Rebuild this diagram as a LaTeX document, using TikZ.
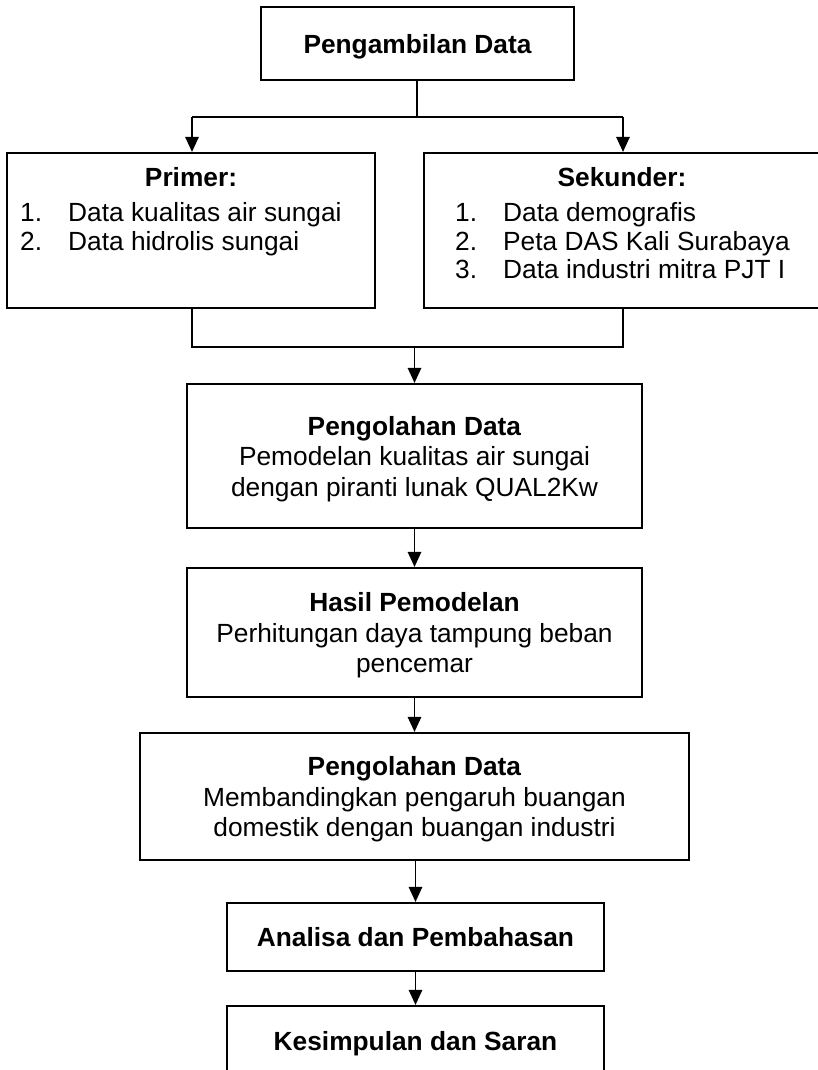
\documentclass[tikz,border=0pt]{standalone}
\usepackage{fontspec}
\setmainfont{Liberation Sans}
\usetikzlibrary{arrows.meta}
\begin{document}
\begin{tikzpicture}[x=1pt,y=-1pt,
  every node/.style={font=\fontsize{26.3}{30.5}\selectfont},
  box/.style={draw, line width=2.2pt, rectangle, inner sep=0pt, align=center, text depth=0pt},
  txt/.style={inner sep=0pt},
  conn/.style={line width=1.3pt},
  arr/.style={line width=1.3pt, -{Triangle[width=13.5pt,length=15pt]}}]
\useasboundingbox (0,0) rectangle (818,1070);
% boxes
\node[box, minimum width=313pt, minimum height=73pt] (b1) at (417.5,43.5) {\bfseries Pengambilan Data};
\node[box, minimum width=368pt, minimum height=155pt] (prim) at (191,230.5) {};
\node[box, minimum width=396pt, minimum height=155pt] (sek) at (622,230.5) {};
\node[box, minimum width=455pt, minimum height=144pt] (b4) at (414.5,456) {\textbf{Pengolahan Data}\\Pemodelan kualitas air sungai\\dengan piranti lunak QUAL2Kw};
\node[box, minimum width=455pt, minimum height=129pt] (b5) at (414.5,632.5) {\textbf{Hasil Pemodelan}\\Perhitungan daya tampung beban\\pencemar};
\node[box, minimum width=549pt, minimum height=127pt] (b6) at (414.5,796.5) {\textbf{Pengolahan Data}\\Membandingkan pengaruh buangan\\domestik dengan buangan industri};
\node[box, minimum width=377pt, minimum height=68pt] (b7) at (415.5,937) {\bfseries Analisa dan Pembahasan};
\node[box, minimum width=377pt, minimum height=70pt] (b8) at (415.5,1041) {\bfseries Kesimpulan dan Saran};
% list texts
\node[txt, anchor=base] (ph) at (191,186) {\bfseries Primer:};
\node[txt, anchor=base west] (p1) at (20,221.5) {\makebox[48pt][l]{1.}Data kualitas air sungai};
\node[txt, anchor=base west] (p2) at (20,250) {\makebox[48pt][l]{2.}Data hidrolis sungai};
\node[txt, anchor=base] (sh) at (622,186) {\bfseries Sekunder:};
\node[txt, anchor=base west] (s1) at (455,221.5) {\makebox[48pt][l]{1.}Data demografis};
\node[txt, anchor=base west] (s2) at (455,250) {\makebox[48pt][l]{2.}Peta DAS Kali Surabaya};
\node[txt, anchor=base west] (s3) at (455,278.5) {\makebox[48pt][l]{3.}Data industri mitra PJT I};
% connectors
\coordinate (split) at (417,117);
\coordinate (sl) at (192,117);
\coordinate (sr) at (623,117);
\draw[conn] (b1.south -| split) -- (split);
\draw[conn] (sl) -- (sr);
\draw[arr] (sl) -- (sl |- prim.north);
\draw[arr] (sr) -- (sr |- sek.north);
\coordinate (ml) at (192,347);
\coordinate (mr) at (623,347);
\coordinate (mc) at (414.5,347);
\draw[conn] (ml |- prim.south) -- (ml) -- (mr) -- (mr |- sek.south);
\draw[arr] (mc) -- (b4.north);
\draw[arr] (b4) -- (b5);
\draw[arr] (b5) -- (b6);
\draw[arr] (b6.south) -- (b6.south -| b7.north) -- (b7.north);
\draw[arr] (b7) -- (b8);
\end{tikzpicture}
\end{document}
